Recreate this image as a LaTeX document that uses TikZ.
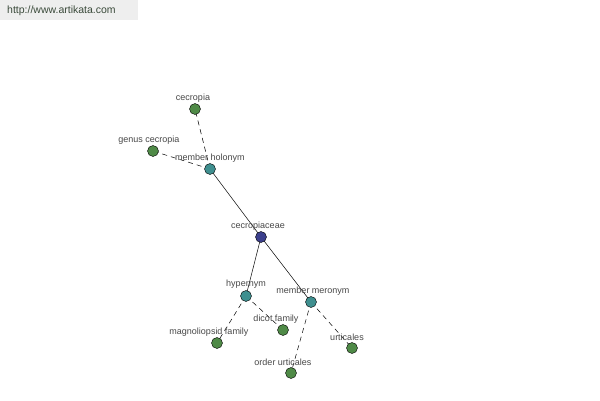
\documentclass[tikz,border=0pt]{standalone}
\usepackage{fontspec}
\setmainfont{Liberation Sans}
\begin{document}
\begin{tikzpicture}[x=1pt,y=-1pt,
  vert/.style={circle,draw=black,line width=0.4pt,minimum size=11pt,inner sep=0pt},
  leaf/.style={vert,fill=leafc},
  mid/.style={vert,fill=midc},
  root/.style={vert,fill=rootc},
  lbl/.style={font=\fontsize{9}{10}\selectfont,text=labc,inner sep=0pt},
  rel/.style={draw=black,line width=0.5pt},
  weak/.style={rel,dashed,dash pattern=on 5pt off 4pt}]
\definecolor{leafc}{HTML}{4F8A47}
\definecolor{midc}{HTML}{3F8F8F}
\definecolor{rootc}{HTML}{3B3F8C}
\definecolor{labc}{HTML}{484848}
\definecolor{hdr}{HTML}{EEEEEE}
\definecolor{hdrtext}{HTML}{3A4A3A}
\useasboundingbox (0,0) rectangle (600,400);
\fill[white] (0,0) rectangle (600,400);
\fill[hdr] (0,0) rectangle (138,20);
\node[font=\fontsize{10.5}{12}\selectfont,text=hdrtext,anchor=west,inner sep=0pt] (url) at (7,11) {http://www.artikata.com};
% edges first
\coordinate (pc) at (195,109);
\coordinate (pg) at (153,151);
\coordinate (ph) at (210,169);
\coordinate (pr) at (261,237);
\coordinate (py) at (246,296);
\coordinate (pm) at (311,302);
\coordinate (pd) at (283,330);
\coordinate (pmag) at (217,343);
\coordinate (pu) at (352,348);
\coordinate (po) at (291,373);
\draw[rel] (pr) -- (ph);
\draw[rel] (pr) -- (py);
\draw[rel] (pr) -- (pm);
\draw[weak] (ph) -- (pc);
\draw[weak] (ph) -- (pg);
\draw[weak] (py) -- (pmag);
\draw[weak] (py) -- (pd);
\draw[weak] (pm) -- (pu);
\draw[weak] (pm) -- (po);
% nodes
\node[leaf] (cecropia) at (pc) {};
\node[leaf] (genus) at (pg) {};
\node[mid] (holonym) at (ph) {};
\node[root] (root) at (pr) {};
\node[mid] (hypernym) at (py) {};
\node[mid] (meronym) at (pm) {};
\node[leaf] (dicot) at (pd) {};
\node[leaf] (magno) at (pmag) {};
\node[leaf] (urt) at (pu) {};
\node[leaf] (ordurt) at (po) {};
% labels
\node[lbl] (l1) at (193,98) {cecropia};
\node[lbl] (l2) at (149,140) {genus cecropia};
\node[lbl] (l3) at (210,158) {member holonym};
\node[lbl] (l4) at (258,226) {cecropiaceae};
\node[lbl] (l5) at (246,284) {hypernym};
\node[lbl] (l6) at (313,291) {member meronym};
\node[lbl] (l7) at (276,319) {dicot family};
\node[lbl] (l8) at (209,332) {magnoliopsid family};
\node[lbl] (l9) at (347,337) {urticales};
\node[lbl] (l10) at (283,362) {order urticales};
\end{tikzpicture}
\end{document}
